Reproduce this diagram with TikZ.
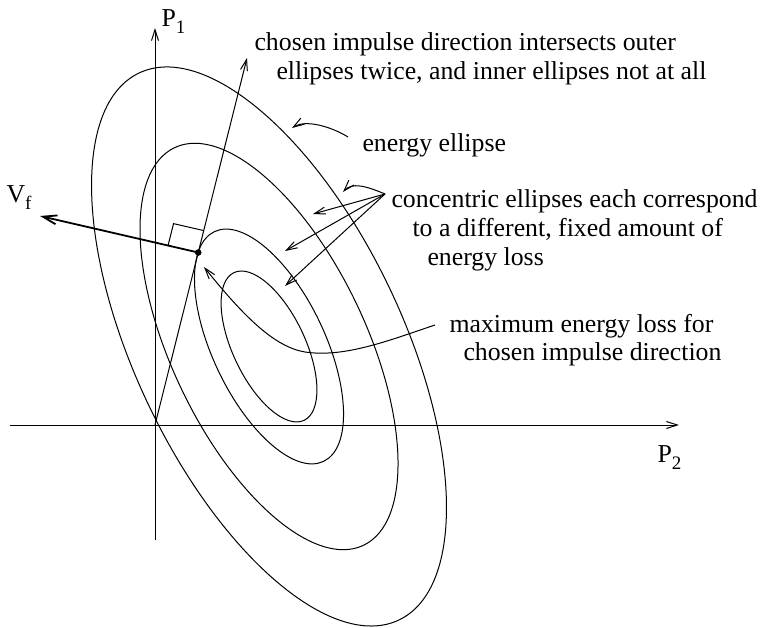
\documentclass[tikz,border=0pt]{standalone}
\usepackage{fontspec}
\setmainfont{Liberation Serif}
\usetikzlibrary{arrows.meta,calc}
\begin{document}
\begin{tikzpicture}[x=1bp,y=-1bp,
  line width=1bp,
  arr/.style={-{Straight Barb[length=11bp,width=7bp]}},
  vfarr/.style={line width=1.8bp,-{Straight Barb[length=14bp,width=9bp]}},
  lbl/.style={inner sep=0pt, anchor=base west, font=\fontsize{25.8bp}{28.8bp}\selectfont},
  subs/.style={}]
\newcommand{\sbx}[1]{\raisebox{-7bp}{\fontsize{19bp}{19bp}\selectfont #1}}
\useasboundingbox (0,0) rectangle (761,628);
% key points
\coordinate (O) at (155,425);
\coordinate (ytop) at (155,28);
\coordinate (ybot) at (155,540);
\coordinate (xleft) at (10,425);
\coordinate (xright) at (679,425);
\coordinate (C) at (269,346.5);
\coordinate (imp) at (247,58);
\coordinate (dot) at ($(O)!0.47!(imp)$);
\coordinate (vf) at (40,216);
% ellipses
\foreach \s in {1,0.727,0.42,0.27}
  \draw[rotate around={-64.6:(C)}] (C) ellipse [x radius=302.8*\s, y radius=133.9*\s];
% axes
\draw[arr] (ybot) -- (ytop);
\draw[arr] (xleft) -- (xright);
% impulse direction
\draw[arr] (O) -- (imp);
% V_f
\draw[vfarr] (dot) -- (vf);
% right angle mark
\coordinate (ra1) at ($(dot)!31bp!(vf)$);
\coordinate (ra3) at ($(dot)!22.6bp!(imp)$);
\coordinate (ra2) at ($(ra1)+(ra3)-(dot)$);
\draw (ra1) -- (ra2) -- (ra3);
\fill (dot) circle (3.3bp);
% labels
\node[lbl] (Pone) at (161,27) {P\sbx{1}};
\node[lbl] (Ptwo) at (657,462) {P\sbx{2}};
\node[lbl] (Vf) at (6,203) {V\sbx{f}};
\node[lbl] (chosen) at (254,51) {\begin{tabular}[t]{@{}l@{}}chosen impulse direction intersects outer\\\hspace*{22bp}ellipses twice, and inner ellipses not at all\end{tabular}};
\node[lbl] (energy) at (362,152) {energy ellipse};
\node[lbl] (conc) at (391,208) {\begin{tabular}[t]{@{}l@{}}concentric ellipses each correspond\\\hspace*{21bp}to a different, fixed amount of\\\hspace*{36bp}energy loss\end{tabular}};
\node[lbl] (maxl) at (449,332) {\begin{tabular}[t]{@{}l@{}}maximum energy loss for\\\hspace*{14bp}chosen impulse direction\end{tabular}};
% annotation arrows
\coordinate (e1) at (348,137);
\coordinate (e2) at (292,128);
\draw[arr] (e1) .. controls (332,127) and (306,119) .. (e2);
\coordinate (cs) at (385,194);
\coordinate (ca) at (343,192);
\coordinate (cb) at (313,214);
\coordinate (cc) at (285,251);
\coordinate (cd) at (285,286);
\draw[arr] (cs) .. controls (366,186) and (352,182) .. (ca);
\draw[arr] (cs) -- (cb);
\draw[arr] (cs) -- (cc);
\draw[arr] (cs) -- (cd);
\coordinate (m1) at (435,325);
\coordinate (m2) at (204,267);
\draw[arr] (m1) .. controls (390,340) and (345,358) .. (305,352) .. controls (275,347) and (245,318) .. (m2);
\end{tikzpicture}
\end{document}
